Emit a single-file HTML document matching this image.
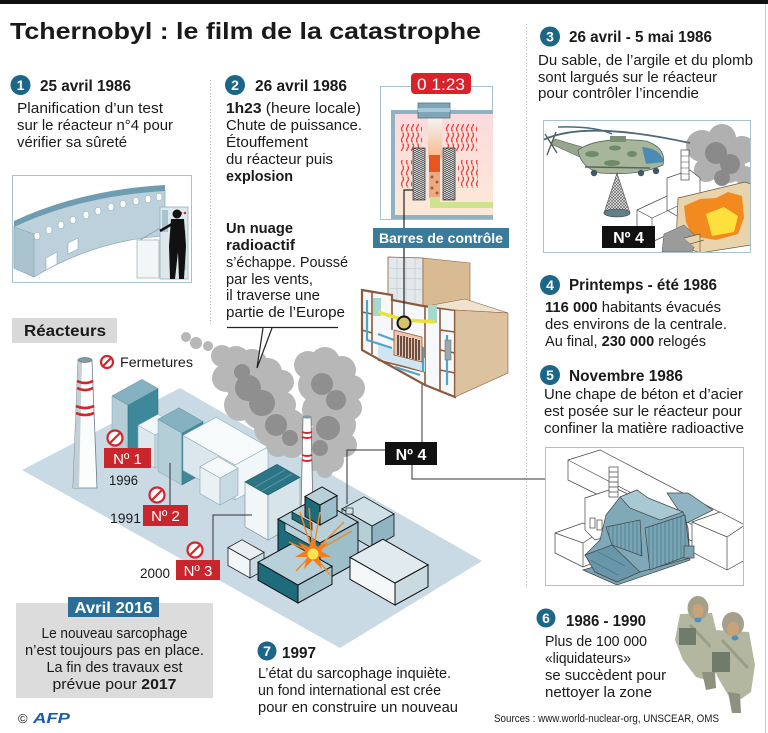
<!DOCTYPE html>
<html><head><meta charset="utf-8">
<style>
html,body{margin:0;padding:0;background:#fff;width:768px;height:733px;overflow:hidden}
svg{display:block}
text{font-family:"Liberation Sans",Arial,sans-serif}
</style></head><body>
<svg width="768" height="733" viewBox="0 0 768 733" xmlns="http://www.w3.org/2000/svg">
<defs>
<pattern id="sq" width="5" height="11" patternUnits="userSpaceOnUse">
<path d="M2.5,0.5 q2,2.5 0,5 q-2,2.5 0,5" stroke="#e2433a" stroke-width="1.3" fill="none"/>
</pattern>
<linearGradient id="pink" x1="0" y1="0" x2="0" y2="1"><stop offset="0" stop-color="#fbdadd"/><stop offset="1" stop-color="#fde9d8"/></linearGradient>
<linearGradient id="beam" x1="0" y1="0" x2="0" y2="1"><stop offset="0" stop-color="#f4f4f4"/><stop offset="1" stop-color="#f9b98a"/></linearGradient>
<pattern id="net" width="3" height="3" patternUnits="userSpaceOnUse"><rect width="3" height="3" fill="#eee"/><path d="M0,0 L3,3 M3,0 L0,3" stroke="#555" stroke-width="0.6"/></pattern>
<pattern id="rod" width="4" height="4" patternUnits="userSpaceOnUse"><rect width="4" height="4" fill="#ddd"/><path d="M0,1 q1,1 2,0 q1,-1 2,0 M0,3 q1,1 2,0 q1,-1 2,0" stroke="#333" stroke-width="0.7" fill="none"/></pattern>
<pattern id="stripes" width="4" height="10" patternUnits="userSpaceOnUse"><rect width="4" height="10" fill="#7aa5b5"/><line x1="1" y1="0" x2="1" y2="10" stroke="#4a7a8d" stroke-width="0.8"/></pattern>
<clipPath id="c1"><rect x="13" y="176" width="178" height="106"/></clipPath>
<clipPath id="c3"><rect x="544" y="121" width="206" height="131"/></clipPath>
<clipPath id="c5"><rect x="546" y="448" width="197" height="137"/></clipPath>
</defs>

<rect width="768" height="733" fill="#fff"/>
<rect x="0" y="0" width="768" height="4" fill="#111"/>
<line x1="765.5" y1="4" x2="765.5" y2="733" stroke="#c8c8c8"/>
<line x1="210.5" y1="80" x2="210.5" y2="324" stroke="#b5b5b5" stroke-dasharray="1.2,2"/>
<line x1="526.5" y1="24" x2="526.5" y2="588" stroke="#b5b5b5" stroke-dasharray="1.2,2"/>

<!-- ============ PLANT ============ -->
<polygon points="22,470 180,388 482,561 340,648" fill="#c9dae5"/>

<!-- chimney 1 -->
<polygon points="78,360 92,360 97,488 73,488" fill="#fbfcfc" stroke="#6b7f87" stroke-width="0.8"/>
<polygon points="78,360 82,360 79,488 73,488" fill="#c3d0d5"/>
<ellipse cx="85" cy="360" rx="7" ry="2.5" fill="#7c9ca8" stroke="#556" stroke-width="0.5"/>
<path d="M77,381 Q85,385 93,381 M77,388 Q85,392 93,388 M76,406 Q85,410 94,406 M76,413 Q85,417 94,413" stroke="#d2262c" stroke-width="2.6" fill="none"/>

<!-- block A -->
<polygon points="112,450.9 128,460 128,405 112,395.9" fill="#b4ced8" stroke="#7fa3b1" stroke-width="0.5"/>
<polygon points="128,460 158,443.5 158,388.5 128,405" fill="#3d8899" stroke="#2c6a78" stroke-width="0.5"/>
<polygon points="112,395.9 128,405 158,388.5 142,379.4" fill="#86b1c0" stroke="#5e8d9c" stroke-width="0.5"/>
<!-- low block -->
<polygon points="138,458.3 155,468 155,435 138,425.3" fill="#dde9ee" stroke="#8aa9b5" stroke-width="0.5"/>
<polygon points="155,468 175,457 175,424 155,435" fill="#c4d8e0" stroke="#8aa9b5" stroke-width="0.5"/>
<polygon points="138,425.3 155,435 175,424 158,414.3" fill="#f2f7f9" stroke="#8aa9b5" stroke-width="0.5"/>
<!-- block B -->
<polygon points="158,471.3 182,485 182,433 158,419.3" fill="#b4ced8" stroke="#7fa3b1" stroke-width="0.5"/>
<polygon points="182,485 203,473.5 203,421.5 182,433" fill="#3d8899" stroke="#2c6a78" stroke-width="0.5"/>
<polygon points="158,419.3 182,433 203,421.5 179,407.8" fill="#86b1c0" stroke="#5e8d9c" stroke-width="0.5"/>
<!-- block C -->
<polygon points="183,470.4 235,500 235,465 183,435.4" fill="#dbe7ec" stroke="#8aa9b5" stroke-width="0.6"/>
<polygon points="235,500 268,481.9 268,446.9 235,465" fill="#f1f6f8" stroke="#8aa9b5" stroke-width="0.6"/>
<polygon points="183,435.4 235,465 268,446.9 216,417.3" fill="#f7fafb" stroke="#8aa9b5" stroke-width="0.6"/>
<!-- cube D -->
<polygon points="200,493.6 220,505 220,478 200,466.6" fill="#e9f1f4" stroke="#8aa9b5" stroke-width="0.6"/>
<polygon points="220,505 238,495.1 238,468.1 220,478" fill="#c7dae1" stroke="#8aa9b5" stroke-width="0.6"/>
<polygon points="200,466.6 220,478 238,468.1 218,456.7" fill="#f6f9fa" stroke="#8aa9b5" stroke-width="0.6"/>

<!-- smoke -->
<g fill="#b7b7b7">
<circle cx="186" cy="337" r="5"/><circle cx="196" cy="343" r="6"/><circle cx="208" cy="346" r="5"/>
<circle cx="222" cy="356" r="11"/><circle cx="236" cy="360" r="14"/><circle cx="252" cy="365" r="16"/>
<circle cx="268" cy="372" r="14"/><circle cx="226" cy="378" r="14"/><circle cx="246" cy="385" r="20"/>
<circle cx="268" cy="390" r="18"/><circle cx="282" cy="382" r="12"/><circle cx="240" cy="405" r="16"/>
<circle cx="262" cy="410" r="20"/><circle cx="282" cy="405" r="14"/><circle cx="272" cy="428" r="18"/>
<circle cx="290" cy="425" r="16"/><circle cx="292" cy="445" r="13"/><circle cx="278" cy="445" r="12"/>
<circle cx="300" cy="440" r="10"/>
<circle cx="308" cy="365" r="14"/><circle cx="325" cy="362" r="15"/><circle cx="342" cy="370" r="14"/>
<circle cx="352" cy="388" r="13"/><circle cx="315" cy="385" r="17"/><circle cx="335" cy="392" r="18"/>
<circle cx="350" cy="408" r="12"/><circle cx="320" cy="410" r="18"/><circle cx="340" cy="425" r="16"/>
<circle cx="325" cy="440" r="18"/><circle cx="345" cy="445" r="12"/><circle cx="315" cy="458" r="13"/>
<circle cx="332" cy="460" r="12"/><circle cx="325" cy="470" r="8"/>
</g>
<g fill="#8f8f8f">
<circle cx="248" cy="388" r="13"/><circle cx="262" cy="403" r="13"/><circle cx="242" cy="372" r="8"/>
<circle cx="276" cy="425" r="11"/><circle cx="290" cy="438" r="8"/>
<circle cx="322" cy="384" r="11"/><circle cx="336" cy="400" r="10"/><circle cx="328" cy="428" r="12"/><circle cx="320" cy="448" r="8"/>
</g>

<!-- chimney 2 -->
<polygon points="303,417 311,417 313,515 301,515" fill="#fbfcfc" stroke="#666" stroke-width="0.7"/>
<ellipse cx="307" cy="417" rx="4.5" ry="1.6" fill="#7c9ca8"/>
<path d="M302,432 Q307,434 312,432 M302,437 Q307,439 312,437 M302,455 Q307,457 312,455 M302,460 Q307,462 312,460" stroke="#d2262c" stroke-width="2" fill="none"/>

<!-- block E -->
<polygon points="245,526.9 268,540 268,495 245,481.9" fill="#f1f6f8" stroke="#6f8f9b" stroke-width="0.6"/>
<polygon points="268,540 300,522.4 300,477.4 268,495" fill="#d7e5ea" stroke="#6f8f9b" stroke-width="0.6"/>
<polygon points="245,481.9 268,495 300,477.4 277,464.3" fill="#2b7686" stroke="#1f5a66" stroke-width="0.6"/>
<path d="M255,487 L285,470 M262,491 L292,474" stroke="#5c9aa8" stroke-width="1"/>

<!-- right wing -->
<polygon points="342,530.9 372,548 372,526 342,508.9" fill="#b5cfd8" stroke="#111" stroke-width="0.8"/>
<polygon points="372,548 394,535.9 394,513.9 372,526" fill="#8fb4c2" stroke="#111" stroke-width="0.8"/>
<polygon points="342,508.9 372,526 394,513.9 364,496.8" fill="#cfe0e6" stroke="#111" stroke-width="0.8"/>
<rect x="346" y="508" width="7" height="6" fill="#cfe0e6" stroke="#111" stroke-width="0.6"/>

<!-- reactor 4 block 2 -->
<polygon points="278,559.1 320,583 320,543 278,519.1" fill="#1d6b7b" stroke="#111" stroke-width="1"/>
<polygon points="320,583 358,562.1 358,522.1 320,543" fill="#9dbfca" stroke="#111" stroke-width="1"/>
<polygon points="278,519.1 320,543 358,522.1 316,498.2" fill="#b7d0d9" stroke="#111" stroke-width="1"/>
<polygon points="285,523 310,537 310,545 285,531" fill="#b7d0d9" stroke="#111" stroke-width="0.7"/>
<polygon points="292,512 312,523 312,530 292,519" fill="#1d6b7b" stroke="#111" stroke-width="0.7"/>
<!-- block 3 -->
<polygon points="305,516.5 320,525 320,505 305,496.5" fill="#1d6b7b" stroke="#111" stroke-width="1"/>
<polygon points="320,525 337,515.6 337,495.6 320,505" fill="#9dbfca" stroke="#111" stroke-width="1"/>
<polygon points="305,496.5 320,505 337,495.6 322,487" fill="#b7d0d9" stroke="#111" stroke-width="1"/>
<!-- small left block -->
<polygon points="228,565.5 250,578 250,560 228,547.5" fill="#f1f6f8" stroke="#222" stroke-width="0.8"/>
<polygon points="250,578 264,570.3 264,552.3 250,560" fill="#c9dae1" stroke="#222" stroke-width="0.8"/>
<polygon points="228,547.5 250,560 264,552.3 242,539.8" fill="#e8f0f3" stroke="#222" stroke-width="0.8"/>
<!-- base block 1 -->
<polygon points="258,580.2 298,603 298,585 258,562.2" fill="#1d6b7b" stroke="#111" stroke-width="1"/>
<polygon points="298,603 332,584.3 332,566.3 298,585" fill="#a9c6d0" stroke="#111" stroke-width="1"/>
<polygon points="258,562.2 298,585 332,566.3 292,543.5" fill="#b7d0d9" stroke="#111" stroke-width="1"/>
<!-- white big block -->
<polygon points="350,579.35 395,605 395,583 350,557.35" fill="#f4f8f9" stroke="#111" stroke-width="1"/>
<polygon points="395,605 428,586.85 428,564.85 395,583" fill="#c9dae1" stroke="#111" stroke-width="1"/>
<polygon points="350,557.35 395,583 428,564.85 383,539.2" fill="#e1ebef" stroke="#111" stroke-width="1"/>

<!-- explosion -->
<g stroke="#f08a24" stroke-width="1.4">
<line x1="313" y1="553" x2="300" y2="512"/><line x1="313" y1="553" x2="309" y2="508"/>
<line x1="313" y1="553" x2="320" y2="512"/><line x1="313" y1="553" x2="344" y2="522"/>
<line x1="313" y1="553" x2="352" y2="531"/><line x1="313" y1="553" x2="289" y2="542"/>
<line x1="313" y1="553" x2="296" y2="571"/><line x1="313" y1="553" x2="330" y2="575"/>
</g>
<polygon points="313,537 317,547 328,542 321,551 331,557 319,557 322,569 313,560 304,569 307,557 295,557 305,551 298,542 309,547" fill="#f07d1f"/>
<circle cx="313" cy="554" r="5.5" fill="#ffe44d"/>

<!-- labels on plant -->
<g fill="none" stroke="#333" stroke-width="1">
<polyline points="170,505 170,463"/>
<polyline points="213,560 213,515 252,515"/>
<polyline points="385,450 347,450 347,504"/>
<polyline points="412,465 412,479 546,479"/>
<polyline points="422,380 422,442"/>
</g>

<g stroke="#d2262c" stroke-width="2.2" fill="#fff">
<circle cx="107" cy="362" r="6"/><circle cx="115" cy="438" r="7.5"/><circle cx="157" cy="495" r="7.5"/><circle cx="195" cy="550" r="7.5"/>
</g>
<g stroke="#d2262c" stroke-width="2.2">
<line x1="103" y1="366" x2="111" y2="358"/><line x1="110" y1="443" x2="120" y2="433"/>
<line x1="152" y1="500" x2="162" y2="490"/><line x1="190" y1="555" x2="200" y2="545"/>
</g>

<rect x="104" y="448" width="47" height="20" fill="#c9252c"/>
<rect x="143" y="505" width="45" height="21" fill="#c9252c"/>
<rect x="176" y="560" width="44" height="20" fill="#c9252c"/>
<rect x="385" y="442" width="52" height="23" fill="#111"/>

<g fill="#fff" font-size="15">
<text x="127.5" y="464" text-anchor="middle">Nº 1</text>
<text x="165.5" y="521" text-anchor="middle">Nº 2</text>
<text x="198" y="576" text-anchor="middle">Nº 3</text>
<text x="411" y="460" text-anchor="middle" font-weight="bold" font-size="16">Nº 4</text>
</g>

<rect x="12" y="318" width="105" height="25" fill="#d9d9d9"/>

<!-- ============ IMAGE 1 ============ -->
<rect x="12.5" y="175.5" width="179" height="107" fill="#fff" stroke="#a7c3d0"/>
<g clip-path="url(#c1)">
<path d="M14,226 Q80,196 165,190 L165,236 Q95,240 34,277 L14,268 Z" fill="#bcd1db" stroke="#7f9fad" stroke-width="0.6"/>
<path d="M14,221 Q80,190 165,185 L165,191 Q80,196 14,227 Z" fill="#6e9db1"/>
<path d="M14,227 L34,234 L34,277 L14,268 Z" fill="#aac3ce" stroke="#7f9fad" stroke-width="0.5"/>
<g fill="#fff" stroke="#7f9fad" stroke-width="0.5">
<ellipse cx="37" cy="236" rx="3" ry="3.8"/><ellipse cx="49" cy="230" rx="3" ry="3.8"/><ellipse cx="61" cy="225" rx="3" ry="3.8"/>
<ellipse cx="73" cy="220" rx="3" ry="3.8"/><ellipse cx="86" cy="215" rx="3" ry="3.8"/><ellipse cx="98" cy="211" rx="3" ry="3.8"/>
<ellipse cx="111" cy="207" rx="3" ry="3.8"/><ellipse cx="123" cy="204" rx="3" ry="3.8"/><ellipse cx="136" cy="201" rx="3" ry="3.8"/>
<ellipse cx="148" cy="199" rx="3" ry="3.8"/><ellipse cx="159" cy="197" rx="3" ry="3.8"/>
<polygon points="46,258 57,252 57,264 46,270"/><polygon points="68,243 78,238 78,249 68,254"/>
</g>
<rect x="137" y="240" width="22" height="38" fill="#f3f6f7" stroke="#a5b7bf" stroke-width="0.8"/>
<path d="M140,240 L160,228" stroke="#8fa5ae" stroke-width="1"/>
<rect x="160" y="207" width="28" height="72" fill="#dde8ed" stroke="#8fb0c0" stroke-width="0.8"/>
<rect x="162" y="210" width="6" height="22" fill="#a8c3cf"/>
<rect x="180" y="230" width="6" height="40" fill="#b9cdd6"/>
<circle cx="181" cy="213" r="1.3" fill="#c33"/><circle cx="185" cy="213" r="1.3" fill="#c33"/>
<circle cx="177" cy="214" r="4.5" fill="#111"/>
<polygon points="171,219 184,219 186,246 184,279 179,279 178,252 175,279 170,279 169,246" fill="#111"/>
<path d="M172,224 L160,231" stroke="#111" stroke-width="2.5"/>
</g>

<!-- ============ IMAGE 2 : core ============ -->
<rect x="380.5" y="86.5" width="112" height="133" fill="#fff" stroke="#a7c3d0"/>
<rect x="391" y="110" width="102" height="109" fill="#8fb2c4"/>
<rect x="395" y="114" width="98" height="101" fill="url(#pink)"/>
<rect x="400" y="124" width="22" height="27" fill="url(#sq)"/>
<rect x="400" y="160" width="12" height="28" fill="url(#sq)"/>
<rect x="445" y="124" width="32" height="27" fill="url(#sq)"/>
<rect x="458" y="160" width="20" height="28" fill="url(#sq)"/>
<rect x="428" y="118" width="14" height="40" fill="url(#beam)"/>
<rect x="418" y="103" width="32" height="15" fill="#7ea6b8" stroke="#4f7384" stroke-width="0.8"/>
<rect x="418" y="108" width="32" height="4" fill="#a9c7d4"/>
<rect x="413" y="148" width="12" height="52" fill="url(#rod)" stroke="#444" stroke-width="0.8"/>
<rect x="443" y="148" width="12" height="52" fill="url(#rod)" stroke="#444" stroke-width="0.8"/>
<rect x="429" y="155" width="11" height="17" fill="#e8561f"/>
<rect x="429" y="172" width="11" height="26" fill="#e9ab86"/>
<g fill="#b8541f"><circle cx="432" cy="177" r="1.5"/><circle cx="437" cy="182" r="1.5"/><circle cx="432" cy="188" r="1.5"/><circle cx="437" cy="193" r="1.5"/></g>
<path d="M430,197 L440,197 L440,202 L493,202 L493,208 L430,208 Z" fill="#cde38f"/>
<rect x="411" y="73" width="60" height="21" rx="4" fill="#d8232a"/>
<text x="441" y="90" text-anchor="middle" font-size="17" fill="#fff" textLength="48" lengthAdjust="spacingAndGlyphs">0 1:23</text>

<!-- ============ cutaway building ============ -->
<polygon points="388,257 423,258 423,307 388,300" fill="#e4e8ea" stroke="#8b5a3c" stroke-width="0.8"/>
<path d="M388,268 L423,269 M388,278 L423,279 M388,288 L423,290 M397,257 V302 M406,257 V304 M415,258 V305" stroke="#b9c4ca" stroke-width="0.6"/>
<polygon points="423,258 470,263 470,305 423,307" fill="#d8bb93" stroke="#8b5a3c" stroke-width="0.6"/>
<polygon points="362,290 392,295 392,300 423,306 455,310 455,397 425,385 362,350" fill="#f6f8f9" stroke="#8b5a3c" stroke-width="2.2"/>
<polygon points="427,306 465,299 508,313 455,310" fill="#efe2cf" stroke="#8b5a3c" stroke-width="0.6"/>
<polygon points="455,310 508,313 508,373 455,397" fill="#dcc29e" stroke="#8b5a3c" stroke-width="0.6"/>
<path d="M372,292 V354 M392,300 V330 M425,307 V385 M440,309 V392 M362,312 L372,314 M362,330 L372,333 M440,330 L455,332 M440,350 L455,353 M440,370 L455,373 M378,360 L425,372" stroke="#8b5a3c" stroke-width="1.6" fill="none"/>
<polygon points="378,345 425,358 425,372 378,358" fill="#cfe6f2"/>
<path d="M367,300 V340 L392,348 M378,334 L394,340 L423,348 L423,372 M447,335 V385 M395,367 L420,375" stroke="#4fa3cf" stroke-width="2.2" fill="none"/>
<rect x="373" y="298" width="8" height="18" fill="#a7d8cf"/>
<rect x="428" y="305" width="9" height="18" fill="#a7d8cf"/>
<path d="M378,312 L404,320 L435,322" stroke="#e9e23b" stroke-width="3.5" fill="none"/>
<polygon points="394,330 422,337 422,362 394,355" fill="#f1c4ad" stroke="#8b5a3c" stroke-width="0.8"/>
<path d="M398,335 V355 M401,336 V356 M404,336 V357 M407,337 V358 M410,338 V358 M413,338 V359 M416,339 V360 M419,340 V360" stroke="#3b2a22" stroke-width="1.5"/>
<rect x="445" y="340" width="6" height="20" fill="#9aa" stroke="#666" stroke-width="0.5"/>
<polyline points="413,190 404,190 404,323" fill="none" stroke="#222" stroke-width="1.2"/>
<circle cx="404" cy="323" r="6.5" fill="#d9c36a" stroke="#111" stroke-width="2"/>
<rect x="373" y="228" width="136" height="20" fill="#3a7b9b"/>
<text x="441" y="243" text-anchor="middle" font-size="14" font-weight="bold" fill="#fff" textLength="124" lengthAdjust="spacingAndGlyphs">Barres de contrôle</text>

<!-- ============ IMAGE 3 : helicopter ============ -->
<rect x="543.5" y="120.5" width="207" height="132" fill="#fff" stroke="#a7c3d0"/>
<g clip-path="url(#c3)">
<g fill="#b0b0b0"><circle cx="702" cy="146" r="16"/><circle cx="722" cy="138" r="14"/><circle cx="742" cy="150" r="14"/><circle cx="728" cy="166" r="17"/><circle cx="706" cy="170" r="12"/><circle cx="745" cy="176" r="10"/></g>
<g fill="#8a8a8a"><circle cx="716" cy="153" r="11"/><circle cx="730" cy="164" r="10"/><circle cx="722" cy="178" r="8"/></g>
<g fill="#fff" stroke="#444" stroke-width="0.7">
<polygon points="637,210 667,196 682,204 682,228 652,242 637,234"/>
<polygon points="667,178 690,170 700,178 700,208 677,216 667,210"/>
<rect x="681" y="150" width="8" height="30"/>
</g>
<path d="M681,156 H689 M681,162 H689 M681,168 H689 M681,174 H689 M637,210 L652,218 L682,204 M652,218 V242" stroke="#444" stroke-width="0.6" fill="none"/>
<polygon points="678,198 745,182 751,184 751,245 700,253 676,244" fill="#e8d3ab" stroke="#6b5a44" stroke-width="0.7"/>
<polygon points="684,206 700,199 716,198 728,192 742,196 744,218 738,234 716,240 692,236 686,222" fill="#f28a1f"/>
<polygon points="706,214 724,207 738,216 734,232 712,236" fill="#fde03c"/>
<polygon points="664,234 684,225 698,238 692,252 662,252" fill="#9b9b9b" stroke="#555" stroke-width="0.5"/>
<path d="M684,238 L700,234 L700,252 M690,244 L704,240" stroke="#6b5a44" stroke-width="0.7" fill="#e8d3ab"/>
<path d="M543,140 Q585,120 690,143" stroke="#4d6a75" stroke-width="1.8" fill="none"/>
<path d="M558,127 Q595,126 612,134" stroke="#4d6a75" stroke-width="1.5" fill="none"/>
<polygon points="551,144 555,139 585,148 582,158" fill="#97a68c" stroke="#56665a" stroke-width="0.6"/>
<path d="M545,134 L557,153 M556,132 L547,155" stroke="#4d5a50" stroke-width="1.3"/>
<path d="M578,150 Q598,136 646,141 Q667,148 663,165 Q640,176 600,173 Q580,167 578,150 Z" fill="#a7b59b" stroke="#56665a" stroke-width="0.8"/>
<ellipse cx="592" cy="154" rx="7" ry="3" fill="#6f8a68"/><ellipse cx="615" cy="148" rx="6" ry="2.5" fill="#6f8a68"/><ellipse cx="612" cy="163" rx="8" ry="3" fill="#6f8a68"/><ellipse cx="632" cy="154" rx="5" ry="3" fill="#6f8a68"/>
<path d="M642,147 Q660,148 664,162 L646,164 Z" fill="#4c8cb3"/>
<rect x="610" y="136" width="16" height="6" fill="#7d8e76"/>
<path d="M585,167 L650,168" stroke="#56665a" stroke-width="1.5"/>
<g fill="#3f5863"><circle cx="594" cy="173" r="3.2"/><circle cx="641" cy="173" r="3.2"/><circle cx="656" cy="171" r="3.2"/></g>
<polygon points="617,173 604,213 630,213" fill="url(#net)" stroke="#555" stroke-width="0.6"/>
<ellipse cx="617" cy="213" rx="13" ry="4" fill="#5f7f8a" stroke="#444" stroke-width="0.6"/>
<rect x="602" y="226" width="53" height="22" fill="#111"/>
<text x="628.5" y="243" text-anchor="middle" font-size="16" font-weight="bold" fill="#fff">Nº 4</text>
</g>

<!-- ============ IMAGE 5 : sarcophagus ============ -->
<rect x="545.5" y="447.5" width="198" height="138" fill="#fff" stroke="#a7c3d0"/>
<g clip-path="url(#c5)" stroke="#444" stroke-width="0.7">
<polygon points="568,460 600,450 750,528 750,540 722,556 568,480" fill="#fff"/>
<path d="M568,460 L718,538 L750,528 M718,538 V560" fill="none"/>
<polygon points="555,533 583,523 600,532 600,560 583,567 555,553" fill="#fff"/>
<path d="M555,533 L583,543 L600,532 M583,543 V567" fill="none"/>
<polygon points="692,522 720,512 745,525 745,560 727,570 692,552" fill="#fff"/>
<path d="M692,522 L727,537 L745,525 M727,537 V570" fill="none"/>
<polygon points="585,498 615,488 630,495 630,530 595,540 585,530" fill="#fff"/>
<rect x="609" y="467" width="9" height="30" fill="#fff"/>
<path d="M609,472 H618 M609,477 H618 M609,482 H618 M609,487 H618 M609,492 H618" fill="none"/>
<rect x="590" y="518" width="5" height="10" fill="#fff"/><rect x="597" y="520" width="5" height="10" fill="#fff"/>
<polygon points="667,493 688,493 713,510 687,523" fill="#8fb4c2"/>
<polygon points="583,570 617,585 690,560 688,540" fill="#7aa5b5"/>
<polygon points="606,515 620,497 637,490 648,498 683,512 688,528 690,558 640,572 617,582 595,572 585,555 600,540" fill="#7fa9b8"/>
<polygon points="620,497 637,490 648,498 683,512 660,520 630,508" fill="#a8c8d3"/>
<polygon points="645,528 685,515 690,555 650,570" fill="url(#stripes)"/>
<polygon points="606,527 640,520 642,556 612,545" fill="url(#stripes)"/>
<polygon points="585,555 612,545 640,572 617,582 595,572" fill="#6997a9"/>
<path d="M590,560 L618,575 M598,552 L625,566" stroke="#3c6c80" fill="none"/>
<rect x="684" y="546" width="10" height="12" fill="#7aa5b5"/>
</g>

<!-- ============ liquidators ============ -->
<g>
<polygon points="680,614 712,613 721,650 717,672 709,681 696,677 683,660 675,640" fill="#b4b79f"/>
<path d="M690,625 L712,648" stroke="#9a9d88" stroke-width="3"/>
<polygon points="702,672 715,672 716,688 706,690" fill="#8e9180"/>
<ellipse cx="698" cy="608" rx="10.5" ry="12" fill="#a5a08a"/>
<ellipse cx="698" cy="611" rx="5.5" ry="7" fill="#c9a27a"/>
<ellipse cx="698" cy="620" rx="3.5" ry="2.5" fill="#4a90c0"/>
<rect x="679" y="628" width="17" height="17" fill="#717b6c"/>
<polygon points="714,630 749,632 755,665 751,692 741,699 728,695 717,676 710,650" fill="#b4b79f"/>
<path d="M722,640 L748,668" stroke="#9a9d88" stroke-width="3"/>
<polygon points="728,692 740,694 741,713 732,713" fill="#8e9180"/>
<ellipse cx="733" cy="624" rx="11" ry="12" fill="#a5a08a"/>
<ellipse cx="733" cy="629" rx="6" ry="7" fill="#c9a27a"/>
<ellipse cx="735" cy="638" rx="3.5" ry="2.5" fill="#4a90c0"/>
<rect x="712" y="652" width="18" height="20" fill="#717b6c"/>
</g>

<!-- ============ Avril 2016 box ============ -->
<rect x="16" y="603" width="197" height="95" fill="#dcdcdc"/>
<rect x="68" y="597" width="91" height="20" fill="#2a6e98"/>

<!-- ============ TEXT ============ -->
<g fill="#1a1a1a">
<text x="10" y="39" font-size="23" font-weight="bold" textLength="471" lengthAdjust="spacingAndGlyphs">Tchernobyl : le film de la catastrophe</text>

<circle cx="20.5" cy="85" r="10" fill="#1c6788"/>
<text x="20.5" y="90" font-size="14" font-weight="bold" fill="#fff" text-anchor="middle">1</text>
<text x="40" y="91" font-size="15.5" font-weight="bold" textLength="91" lengthAdjust="spacingAndGlyphs">25 avril 1986</text>
<g font-size="15">
<text x="17" y="113" textLength="146" lengthAdjust="spacingAndGlyphs">Planification d’un test</text>
<text x="17" y="130" textLength="156" lengthAdjust="spacingAndGlyphs">sur le réacteur n°4 pour</text>
<text x="17" y="147" textLength="110" lengthAdjust="spacingAndGlyphs">vérifier sa sûreté</text>
</g>

<circle cx="235" cy="85" r="10" fill="#1c6788"/>
<text x="235" y="90" font-size="14" font-weight="bold" fill="#fff" text-anchor="middle">2</text>
<text x="255" y="91" font-size="15.5" font-weight="bold" textLength="92" lengthAdjust="spacingAndGlyphs">26 avril 1986</text>
<g font-size="15">
<text x="226" y="113" textLength="135" lengthAdjust="spacingAndGlyphs"><tspan font-weight="bold">1h23</tspan> (heure locale)</text>
<text x="226" y="130" textLength="136" lengthAdjust="spacingAndGlyphs">Chute de puissance.</text>
<text x="226" y="147" textLength="82" lengthAdjust="spacingAndGlyphs">Étouffement</text>
<text x="226" y="164" textLength="107" lengthAdjust="spacingAndGlyphs">du réacteur puis</text>
<text x="226" y="181" font-weight="bold" textLength="67" lengthAdjust="spacingAndGlyphs">explosion</text>
<text x="226" y="233" font-weight="bold" textLength="67" lengthAdjust="spacingAndGlyphs">Un nuage</text>
<text x="226" y="250" font-weight="bold" textLength="69" lengthAdjust="spacingAndGlyphs">radioactif</text>
<text x="226" y="267" textLength="122" lengthAdjust="spacingAndGlyphs">s’échappe. Poussé</text>
<text x="226" y="284" textLength="87" lengthAdjust="spacingAndGlyphs">par les vents,</text>
<text x="226" y="300" textLength="94" lengthAdjust="spacingAndGlyphs">il traverse une</text>
<text x="226" y="317" textLength="119" lengthAdjust="spacingAndGlyphs">partie de l’Europe</text>
</g>
</g>
<line x1="227" y1="327.5" x2="338" y2="327.5" stroke="#222" stroke-width="1.2"/>
<polyline points="263,328 257,368 272,328" fill="#fff" stroke="#222" stroke-width="1.2"/>

<g fill="#1a1a1a">
<circle cx="550" cy="36.5" r="10" fill="#1c6788"/>
<text x="550" y="41.5" font-size="14" font-weight="bold" fill="#fff" text-anchor="middle">3</text>
<text x="569" y="42" font-size="15.5" font-weight="bold" textLength="143" lengthAdjust="spacingAndGlyphs">26 avril - 5 mai 1986</text>
<g font-size="15">
<text x="538" y="65" textLength="215" lengthAdjust="spacingAndGlyphs">Du sable, de l’argile et du plomb</text>
<text x="538" y="82" textLength="179" lengthAdjust="spacingAndGlyphs">sont largués sur le réacteur</text>
<text x="538" y="98" textLength="161" lengthAdjust="spacingAndGlyphs">pour contrôler l’incendie</text>
</g>

<circle cx="550" cy="285" r="10" fill="#1c6788"/>
<text x="550" y="290" font-size="14" font-weight="bold" fill="#fff" text-anchor="middle">4</text>
<text x="569" y="290" font-size="15.5" font-weight="bold" textLength="148" lengthAdjust="spacingAndGlyphs">Printemps - été 1986</text>
<g font-size="15">
<text x="545" y="312" textLength="176" lengthAdjust="spacingAndGlyphs"><tspan font-weight="bold">116 000</tspan> habitants évacués</text>
<text x="545" y="329" textLength="182" lengthAdjust="spacingAndGlyphs">des environs de la centrale.</text>
<text x="545" y="346" textLength="161" lengthAdjust="spacingAndGlyphs">Au final, <tspan font-weight="bold">230 000</tspan> relogés</text>
</g>

<circle cx="550" cy="375" r="10" fill="#1c6788"/>
<text x="550" y="380" font-size="14" font-weight="bold" fill="#fff" text-anchor="middle">5</text>
<text x="569" y="381" font-size="15.5" font-weight="bold" textLength="114" lengthAdjust="spacingAndGlyphs">Novembre 1986</text>
<g font-size="15">
<text x="544" y="399" textLength="199" lengthAdjust="spacingAndGlyphs">Une chape de béton et d’acier</text>
<text x="544" y="416" textLength="198" lengthAdjust="spacingAndGlyphs">est posée sur le réacteur pour</text>
<text x="544" y="433" textLength="200" lengthAdjust="spacingAndGlyphs">confiner la matière radioactive</text>
</g>

<circle cx="546" cy="618" r="9.5" fill="#1c6788"/>
<text x="546" y="623" font-size="14" font-weight="bold" fill="#fff" text-anchor="middle">6</text>
<text x="566" y="626" font-size="15.5" font-weight="bold" textLength="80" lengthAdjust="spacingAndGlyphs">1986 - 1990</text>
<g font-size="15">
<text x="545" y="646" textLength="102" lengthAdjust="spacingAndGlyphs">Plus de 100 000</text>
<text x="545" y="663" textLength="86" lengthAdjust="spacingAndGlyphs">«liquidateurs»</text>
<text x="545" y="680" textLength="121" lengthAdjust="spacingAndGlyphs">se succèdent pour</text>
<text x="545" y="697" textLength="107" lengthAdjust="spacingAndGlyphs">nettoyer la zone</text>
</g>
<text x="494" y="722" font-size="11" textLength="225" lengthAdjust="spacingAndGlyphs">Sources : www.world-nuclear-org, UNSCEAR, OMS</text>

<circle cx="267" cy="651" r="9.5" fill="#1c6788"/>
<text x="267" y="656" font-size="14" font-weight="bold" fill="#fff" text-anchor="middle">7</text>
<text x="282" y="658" font-size="15.5" font-weight="bold" textLength="34" lengthAdjust="spacingAndGlyphs">1997</text>
<g font-size="15">
<text x="258" y="678" textLength="193" lengthAdjust="spacingAndGlyphs">L’état du sarcophage inquiète.</text>
<text x="258" y="695" textLength="183" lengthAdjust="spacingAndGlyphs">un fond international est crée</text>
<text x="258" y="712" textLength="200" lengthAdjust="spacingAndGlyphs">pour en construire un nouveau</text>
</g>

<text x="24" y="336" font-size="16" font-weight="bold" textLength="82" lengthAdjust="spacingAndGlyphs">Réacteurs</text>
<text x="120" y="367" font-size="14" textLength="73" lengthAdjust="spacingAndGlyphs">Fermetures</text>
<text x="109" y="485" font-size="14" textLength="29" lengthAdjust="spacingAndGlyphs">1996</text>
<text x="110" y="523" font-size="14" textLength="31" lengthAdjust="spacingAndGlyphs">1991</text>
<text x="140" y="578" font-size="14" textLength="30" lengthAdjust="spacingAndGlyphs">2000</text>

<text x="113.5" y="613" font-size="15.5" font-weight="bold" fill="#fff" text-anchor="middle" textLength="78" lengthAdjust="spacingAndGlyphs">Avril 2016</text>
<g font-size="15" text-anchor="middle">
<text x="114.5" y="638" textLength="146" lengthAdjust="spacingAndGlyphs">Le nouveau sarcophage</text>
<text x="114.5" y="655" textLength="179" lengthAdjust="spacingAndGlyphs">n’est toujours pas en place.</text>
<text x="114.5" y="672" textLength="136" lengthAdjust="spacingAndGlyphs">La fin des travaux est</text>
<text x="114.5" y="689" textLength="124" lengthAdjust="spacingAndGlyphs">prévue pour <tspan font-weight="bold">2017</tspan></text>
</g>

<text x="18" y="723" font-size="13">©</text>
<text x="33" y="723" font-size="15" font-weight="bold" font-style="italic" fill="#1d5ca8" textLength="37" lengthAdjust="spacingAndGlyphs">AFP</text>
</g>
</svg>
</body></html>
